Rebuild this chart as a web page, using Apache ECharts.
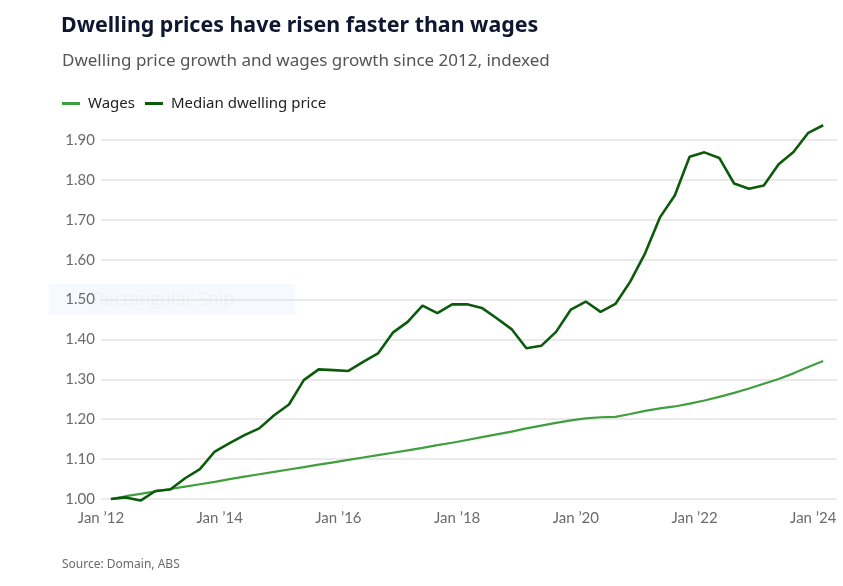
<!DOCTYPE html>
<html><head><meta charset="utf-8">
<script src="https://cdn.jsdelivr.net/npm/echarts@6/dist/echarts.min.js"></script>
<style>html,body{margin:0;padding:0;background:#fff}#c{width:843px;height:586px}</style>
</head><body><div id="c"></div>
<script>
// Quarterly observations (month of each quarter's end), Mar 2012 .. Mar 2024
const quarterDates = [
 '2012-03','2012-06','2012-09','2012-12','2013-03','2013-06','2013-09','2013-12',
 '2014-03','2014-06','2014-09','2014-12','2015-03','2015-06','2015-09','2015-12',
 '2016-03','2016-06','2016-09','2016-12','2017-03','2017-06','2017-09','2017-12',
 '2018-03','2018-06','2018-09','2018-12','2019-03','2019-06','2019-09','2019-12',
 '2020-03','2020-06','2020-09','2020-12','2021-03','2021-06','2021-09','2021-12',
 '2022-03','2022-06','2022-09','2022-12','2023-03','2023-06','2023-09','2023-12',
 '2024-03'
];
const wages = [
 1.000,1.007,1.013,1.019,1.025,1.031,1.037,1.043,1.050,1.056,1.062,1.068,
 1.074,1.080,1.086,1.092,1.098,1.104,1.110,1.116,1.122,1.128,1.135,1.141,
 1.148,1.155,1.162,1.169,1.177,1.184,1.191,1.197,1.202,1.205,1.206,1.213,
 1.221,1.227,1.232,1.239,1.247,1.256,1.266,1.277,1.289,1.301,1.315,1.331,
 1.346
];
const dwelling = [
 1.000,1.004,0.996,1.020,1.024,1.052,1.075,1.119,1.140,1.160,1.177,1.210,
 1.237,1.298,1.325,1.323,1.321,1.344,1.365,1.417,1.444,1.485,1.466,1.488,
 1.488,1.479,1.453,1.426,1.378,1.384,1.419,1.475,1.495,1.469,1.489,1.545,
 1.616,1.706,1.761,1.858,1.869,1.855,1.791,1.778,1.786,1.839,1.870,1.918,
 1.937
];
const xTickLabels = {2012:"Jan \u201912",2014:"Jan \u201914",2016:"Jan \u201916",2018:"Jan \u201918",2020:"Jan \u201920",2022:"Jan \u201922",2024:"Jan \u201924"};
const yTickLabels = ['1.00','1.10','1.20','1.30','1.40','1.50','1.60','1.70','1.80','1.90'];

function toYear(s){const p=s.split('-');return +p[0]+(+p[1]-1)/12;}
const wagesData = quarterDates.map((d,i)=>[toYear(d),wages[i]]);
const dwellingData = quarterDates.map((d,i)=>[toYear(d),dwelling[i]]);

const chart = echarts.init(document.getElementById('c'));
chart.setOption({
  animation:false,
  backgroundColor:'#fff',
  title:[
    {text:'Dwelling prices have risen faster than wages',left:56,top:10,
     textStyle:{fontFamily:'Noto Sans',fontWeight:'bold',fontSize:21.4,color:'#0e1630'}},
    {text:'Dwelling price growth and wages growth since 2012, indexed',left:57,top:48,
     textStyle:{fontFamily:'Noto Sans',fontWeight:'normal',fontSize:17,color:'#555555'}},
    {text:'Source: Domain, ABS',left:57,top:554,
     textStyle:{fontFamily:'Noto Sans',fontWeight:'normal',fontSize:12,color:'#6b6b6b'}}
  ],
  graphic:[
    {type:'rect',z:-1,shape:{x:49,y:284,width:246,height:31},style:{fill:'#f6f9fd'}},
    {type:'text',z:-1,left:93,top:291,style:{text:'Rectangular Snip',font:'18px "Open Sans"',fill:'#eef2f7'}}
  ],
  legend:{
    left:57,top:91,itemGap:10,itemWidth:18,itemHeight:3,icon:'rect',
    textStyle:{fontFamily:'Noto Sans',fontSize:15,color:'#222',padding:[0,0,0,3]},
    data:['Wages','Median dwelling price']
  },
  grid:{left:101,right:6,top:140,bottom:87,containLabel:false},
  xAxis:{
    type:'value',min:2012,max:2024.4,interval:2,
    axisLine:{show:false},axisTick:{show:false},splitLine:{show:false},
    axisLabel:{margin:12,showMaxLabel:false,fontFamily:'Lato',fontSize:15,color:'#6b6b6b',
      formatter:v=>xTickLabels[Math.round(v)]||''}
  },
  yAxis:{
    type:'value',min:1,max:1.9,interval:0.1,
    axisLine:{show:false},axisTick:{show:false},
    splitLine:{lineStyle:{color:'#e3e3e3',width:1.5}},
    axisLabel:{margin:6,fontFamily:'Lato',fontSize:15,color:'#6b6b6b',
      formatter:(v)=>yTickLabels[Math.round((v-1)*10)]}
  },
  series:[
    {name:'Wages',type:'line',data:wagesData,showSymbol:false,clip:false,
     lineStyle:{color:'#3f9f3f',width:2.2},itemStyle:{color:'#3f9f3f'}},
    {name:'Median dwelling price',type:'line',data:dwellingData,showSymbol:false,clip:false,
     lineStyle:{color:'#0c5a0c',width:2.6},itemStyle:{color:'#0c5a0c'}}
  ]
});
</script></body></html>
